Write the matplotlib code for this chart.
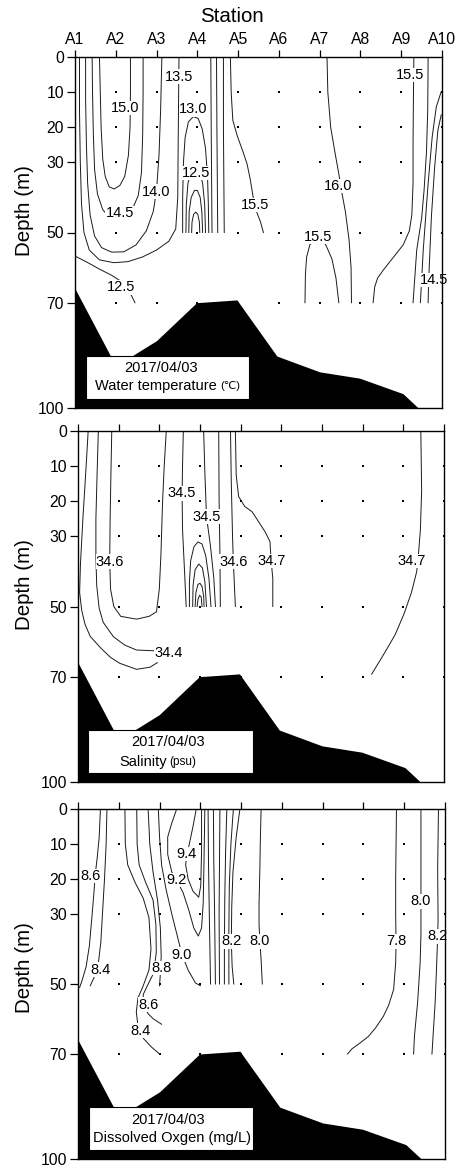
import matplotlib
matplotlib.use("Agg")
import matplotlib.pyplot as plt
from matplotlib.patches import Rectangle

plt.rcParams['font.family'] = ['Liberation Sans', 'DejaVu Sans']

# stations A1..A10 at x = 1..10, depth in metres
stations = ['A1', 'A2', 'A3', 'A4', 'A5', 'A6', 'A7', 'A8', 'A9', 'A10']
depth_ticks = [0, 10, 20, 30, 50, 70, 100]
sample_st = [2, 3, 4, 5, 6, 7, 8, 9, 10]
sample_dp = [10, 20, 30, 50, 70]

# sea floor profile (station, depth)
bottom_st = [1, 2.0, 3.0, 3.98, 4.97, 5.95, 7.0, 7.98, 9.04, 9.42, 10]
bottom_dp = [66, 88, 80.8, 70, 69.2, 85.2, 89.7, 91.5, 95.9, 100, 100]

# ---- water temperature contours, each line = list of (station, depth)
temp_lines = [
    [(1.6,0),(1.62,10),(1.64,20),(1.68,29),(1.74,34),(1.84,37),(1.96,37.6),(2.1,36.6),(2.22,34),(2.31,28),(2.35,20),(2.36,10),(2.36,0)],
    [(1.42,0),(1.43,10),(1.45,22),(1.48,32),(1.55,39),(1.68,43.5),(1.85,45.8),(2.0,46.3),(2.2,45.8),(2.4,43.5),(2.55,39.5),(2.63,33),(2.66,22),(2.67,10),(2.67,0)],
    [(1.26,0),(1.26,12),(1.28,25),(1.31,36),(1.37,45),(1.48,51),(1.65,54.3),(1.9,55.6),(2.2,55.5),(2.5,53.5),(2.75,49.5),(2.92,44),(3.0,38),(3.06,28),(3.1,15),(3.13,0)],
    [(1.11,0),(1.11,15),(1.13,30),(1.16,42),(1.22,50),(1.35,55),(1.6,57.8),(1.95,58.6),(2.3,58.3),(2.65,57),(3.0,55),(3.3,52.5),(3.47,49),(3.52,40),(3.53,25),(3.54,12),(3.55,0)],
    [(1.0,56.7),(1.3,58.5),(1.61,60.5),(1.9,62.2),(2.1,63.7),(2.3,66.3),(2.4,68.3),(2.47,70)],
    [(3.64,50),(3.64,40),(3.66,30),(3.7,23),(3.78,18.5),(3.9,17),(4.02,17.5),(4.12,20.5),(4.2,26),(4.25,34),(4.27,42),(4.28,50)],
    [(3.72,50),(3.73,42),(3.77,36),(3.85,32.3),(3.95,31.3),(4.05,32.2),(4.13,36),(4.18,42),(4.2,50)],
    [(3.79,50),(3.8,44),(3.85,40),(3.93,38),(4.0,38),(4.07,40),(4.11,44),(4.13,50)],
    [(3.86,50),(3.87,47),(3.91,44.8),(3.96,44.2),(4.01,44.8),(4.05,47),(4.06,50)],
    [(4.33,0),(4.34,20),(4.35,35),(4.36,50)],
    [(4.47,0),(4.48,20),(4.49,35),(4.5,50)],
    [(4.64,0),(4.64,20),(4.65,35),(4.66,50)],
    [(4.81,0),(4.83,10),(4.87,18),(4.98,22.5),(5.12,27),(5.22,30.5),(5.3,35),(5.37,40),(5.45,44),(5.55,47),(5.62,50)],
    [(7.18,0),(7.2,10),(7.27,20),(7.38,27.5),(7.48,34),(7.55,39),(7.63,44),(7.72,52),(7.77,60),(7.78,70)],
    [(6.64,70),(6.65,62),(6.68,57),(6.76,53.5),(6.9,51.5),(7.06,51.8),(7.16,53.8),(7.3,57.5),(7.4,63),(7.47,70)],
    [(9.31,0),(9.3,10),(9.29,25),(9.29,36),(9.26,45),(9.2,49.5),(9.05,53.5),(8.88,56),(8.56,60.7),(8.42,63),(8.35,65.5),(8.31,70)],
    [(9.66,0),(9.65,15),(9.62,27),(9.56,38),(9.5,46),(9.38,55),(9.29,70)],
    [(9.98,9.9),(9.86,14.2),(9.76,22.7),(9.66,36),(9.54,55),(9.47,70)],
    [(9.98,16.5),(9.9,20.8),(9.82,31.3),(9.74,45.5),(9.67,64.5),(9.66,70)],
]
temp_labels = ['13.5', '15.0', '13.0', '12.5', '14.0', '14.5', '15.5', '12.5', '16.0', '15.5', '15.5', '14.5']
temp_lab_st = [3.55, 2.24, 3.9, 3.96, 3.0, 2.1, 5.41, 2.14, 7.45, 6.97, 9.22, 9.8]
temp_lab_dp = [5.6, 14.5, 14.9, 33.0, 38.4, 44.5, 42.2, 65.6, 36.8, 51.2, 5.1, 63.5]

# ---- salinity contours
sal_lines = [
    [(1.25,0),(1.2,10),(1.12,25),(1.06,38),(1.04,46),(1.09,51),(1.17,55),(1.3,58.5),(1.54,61.6),(1.8,64.5),(2.03,66.2),(2.44,67.9),(2.77,67.3),(2.95,66)],
    [(1.5,0),(1.47,12),(1.44,25),(1.44,36),(1.46,44),(1.52,50.5),(1.62,54.5),(1.87,58.6),(2.15,61),(2.44,62.4),(2.85,62.6),(3.02,62.8)],
    [(1.83,0),(1.81,12),(1.79,25),(1.78,37),(1.8,45),(1.88,50),(2.05,52.8),(2.44,53.6),(2.75,52.8),(2.93,51.5),(3.0,45),(3.04,35),(3.08,20),(3.12,10),(3.17,0)],
    [(3.74,50),(3.74,43),(3.77,37),(3.85,33),(3.95,31.6),(4.05,32.2),(4.14,35.5),(4.22,42),(4.27,50)],
    [(3.82,50),(3.83,44),(3.88,39.5),(3.97,37.9),(4.06,39),(4.12,43),(4.16,50)],
    [(3.88,50),(3.9,46),(3.95,43.7),(4.0,43.4),(4.05,44.3),(4.09,47),(4.1,50)],
    [(3.93,50),(3.95,48),(3.99,46.8),(4.03,47.3),(4.05,50)],
    [(3.59,0),(3.57,10),(3.56,18),(3.57,28),(3.62,40),(3.66,50)],
    [(4.09,0),(4.12,12),(4.16,24.4),(4.26,33),(4.34,42),(4.38,50)],
    [(4.46,0),(4.47,20),(4.49,35),(4.5,50)],
    [(4.75,0),(4.77,15),(4.8,30),(4.82,37.2),(4.85,45),(4.87,50)],
    [(4.87,0),(4.89,12.5),(4.95,18.7),(5.1,21.5),(5.28,23),(5.45,26),(5.6,28.7),(5.72,31.5),(5.75,37),(5.79,42),(5.79,50)],
    [(9.43,0),(9.45,17),(9.42,28),(9.38,34),(9.33,40),(9.2,46),(9.02,52),(8.8,58),(8.55,63),(8.22,69.3)],
]
sal_labels = ['34.6', '34.5', '34.5', '34.6', '34.7', '34.7', '34.4']
sal_lab_st = [1.79, 3.55, 4.16, 4.82, 5.75, 9.2, 3.22]
sal_lab_dp = [37.2, 17.8, 24.4, 37.2, 37.0, 37.0, 63.2]

# ---- dissolved oxygen contours
do_lines = [
    [(1.55,0),(1.52,8),(1.47,14),(1.42,19),(1.39,24),(1.34,31),(1.28,39),(1.2,45),(1.1,49),(1.04,51)],
    [(1.71,0),(1.69,10),(1.65,20),(1.6,30),(1.56,38),(1.5,44),(1.4,48),(1.3,50.5)],
    [(2.15,0),(2.16,10),(2.22,16),(2.4,21),(2.6,25.5),(2.74,31),(2.79,40),(2.74,46),(2.6,50.5),(2.47,54),(2.43,58),(2.47,62),(2.6,65.5),(2.8,68),(3.0,70)],
    [(2.44,0),(2.45,10),(2.5,16),(2.66,21),(2.84,26),(2.91,33),(2.92,41),(2.85,47),(2.7,50.5),(2.6,53),(2.6,56),(2.72,58.5),(2.85,60),(3.05,61.5)],
    [(2.72,0),(2.76,10),(2.84,18),(2.95,26),(3.02,34),(3.04,42),(3.02,47),(3.0,50.5)],
    [(2.97,0),(3.0,8),(3.05,16),(3.16,23),(3.3,30),(3.44,36.5),(3.55,41.6),(3.7,46),(3.88,49.7),(4.0,50.5)],
    [(3.42,0),(3.3,4),(3.2,8),(3.2,13),(3.3,18),(3.42,20.3),(3.58,24),(3.72,29),(3.84,34),(3.95,36.3),(4.03,34),(4.07,27),(4.09,15),(4.11,0)],
    [(3.9,0),(3.82,5),(3.73,10),(3.67,13),(3.64,16),(3.7,20),(3.82,23.5),(3.96,25.2),(4.01,22),(4.03,12),(4.03,0)],
    [(4.19,0),(4.2,15),(4.22,30),(4.25,50)],
    [(4.32,0),(4.33,15),(4.35,30),(4.37,50)],
    [(4.48,0),(4.47,15),(4.46,30),(4.47,50)],
    [(4.65,0),(4.62,12),(4.6,25),(4.59,40),(4.59,50)],
    [(4.81,0),(4.75,10),(4.71,22),(4.7,35),(4.7,50)],
    [(4.97,0),(4.88,8),(4.8,18),(4.77,28),(4.76,37.8),(4.78,45),(4.82,50)],
    [(5.49,0),(5.47,10),(5.46,17),(5.44,27),(5.44,33),(5.46,38),(5.49,43),(5.52,50)],
    [(8.81,0),(8.8,10),(8.79,20),(8.79,30),(8.8,38),(8.79,44),(8.74,51.6),(8.62,56),(8.49,59.2),(8.3,62.5),(8.12,65),(7.9,67),(7.72,68.5),(7.61,70)],
    [(9.41,0),(9.41,17),(9.41,26.4),(9.41,36),(9.39,44),(9.33,55),(9.25,65),(9.23,70)],
    [(9.84,0),(9.82,17),(9.83,31.6),(9.82,36.4),(9.8,43),(9.76,55),(9.68,70)],
]
do_labels = ['8.6', '8.4', '8.8', '9.0', '9.2', '9.4', '8.6', '8.4', '8.2', '8.0', '7.8', '8.0', '8.2']
do_lab_st = [1.30, 1.55, 3.04, 3.55, 3.42, 3.67, 2.72, 2.53, 4.76, 5.46, 8.81, 9.41, 9.82]
do_lab_dp = [19.2, 45.9, 45.4, 41.6, 20.3, 12.9, 55.9, 63.3, 37.8, 37.8, 37.8, 26.4, 36.4]


def draw_panel(ax, lines, labels, lab_st, lab_dp, top_labels):
    for ln in lines:
        ax.plot([p[0] for p in ln], [p[1] for p in ln], color='#1a1a1a', lw=0.7, zorder=2)
    for t, s, d in zip(labels, lab_st, lab_dp):
        ax.text(s, d, t, fontsize=10.5, ha='center', va='center', zorder=4,
                bbox=dict(boxstyle='square,pad=0.02', fc='white', ec='none'))
    # sampling points
    xs = [s for s in sample_st for d in sample_dp]
    ys = [d for s in sample_st for d in sample_dp]
    ax.plot(xs, ys, 's', color='black', ms=1.8, mew=0, zorder=1)
    # sea floor
    ax.fill_between(bottom_st, bottom_dp, 100, color='black', lw=0, zorder=5)
    ax.set_xlim(1, 10)
    ax.set_ylim(100, 0)
    ax.set_yticks(depth_ticks)
    ax.set_xticks(range(1, 11))
    ax.xaxis.tick_top()
    if top_labels:
        ax.set_xticklabels(stations)
    else:
        ax.set_xticklabels([])
    ax.tick_params(axis='both', direction='out', length=5, width=0.9, labelsize=11.3, pad=2)
    ax.tick_params(axis='y', length=6, pad=2)
    for sp in ax.spines.values():
        sp.set_linewidth(1.0)
        sp.set_zorder(6)


fig = plt.figure(figsize=(4.59, 11.66), dpi=100)
ax1 = fig.add_axes([75/459, 1-408/1166, 367/459, 351/1166])
ax2 = fig.add_axes([78/459, 1-782/1166, 366/459, 351/1166])
ax3 = fig.add_axes([78/459, 1-1159/1166, 367/459, 350/1166])

draw_panel(ax1, temp_lines, temp_labels, temp_lab_st, temp_lab_dp, True)
draw_panel(ax2, sal_lines, sal_labels, sal_lab_st, sal_lab_dp, False)
draw_panel(ax3, do_lines, do_labels, do_lab_st, do_lab_dp, False)

# info boxes
for ax, x0, x1 in [(ax1, 1.27, 5.26), (ax2, 1.25, 5.3), (ax3, 1.27, 5.3)]:
    ax.add_patch(Rectangle((x0, 85.2), x1 - x0, 12.2, fc='white', ec='black', lw=0.8, zorder=7))

ax1.text(3.1, 88.6, '2017/04/03', fontsize=10.5, ha='center', va='center', zorder=8)
ax1.text(4.47, 93.8, 'Water temperature', fontsize=10.5, ha='right', va='center', zorder=8)
ax1.text(4.55, 93.8, '(℃)', fontsize=8, ha='left', va='center', zorder=8)

ax2.text(3.21, 88.6, '2017/04/03', fontsize=10.5, ha='center', va='center', zorder=8)
ax2.text(3.18, 94.2, 'Salinity', fontsize=10.5, ha='right', va='center', zorder=8)
ax2.text(3.24, 94.2, '(psu)', fontsize=8.5, ha='left', va='center', zorder=8)

ax3.text(3.2, 89.0, '2017/04/03', fontsize=10.5, ha='center', va='center', zorder=8)
ax3.text(3.3, 94.0, 'Dissolved Oxgen (mg/L)', fontsize=10.5, ha='center', va='center', zorder=8)

fig.text(232/459, 1-16/1166, 'Station', fontsize=14.8, ha='center', va='center')
for yc in [211, 585, 968]:
    fig.text(25/459, 1-yc/1166, 'Depth (m)', fontsize=14.8, rotation=90, ha='center', va='center')

fig.savefig('out.png', dpi=100)
